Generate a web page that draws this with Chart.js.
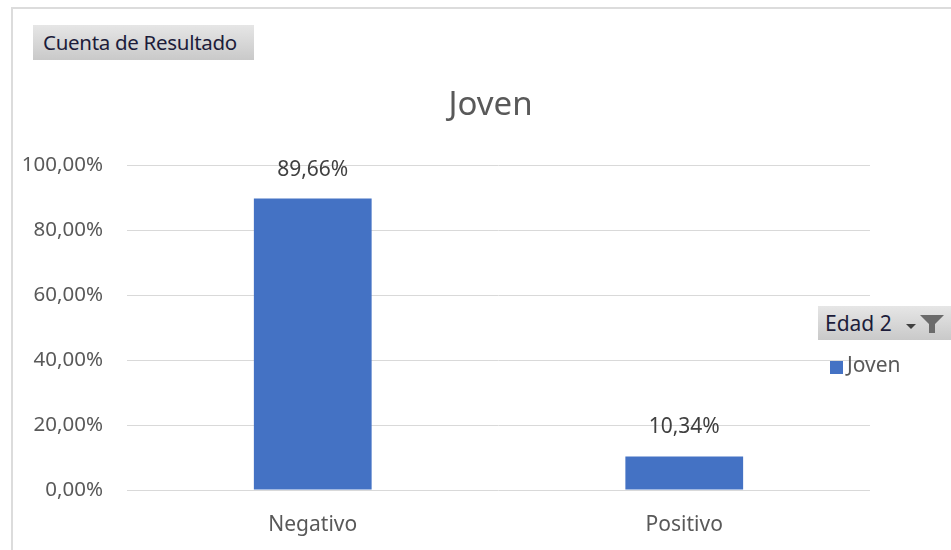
<!DOCTYPE html>
<html>
<head>
<meta charset="utf-8">
<script src="https://cdn.jsdelivr.net/npm/chart.js@4.4.1/dist/chart.umd.min.js"></script>
<style>
  html, body { margin: 0; padding: 0; background: #fff; }
  #wrap { position: relative; width: 951px; height: 550px; overflow: hidden; font-family: "Noto Sans", sans-serif; }
  #frame { position: absolute; left: 11px; top: 7px; right: -5px; bottom: -5px; border-left: 2px solid #dcdcdc; border-top: 2px solid #dcdcdc; }
  canvas { position: absolute; left: 0; top: 0; }
  .btn { position: absolute; background: linear-gradient(#e6e6e6, #c9c9c9); color: #1c1c3a; box-sizing: border-box; white-space: nowrap; }
  #fieldBtn { left: 33px; top: 25px; width: 221px; height: 35px; line-height: 35px; padding-left: 10px; font-size: 20.5px; letter-spacing: -0.3px; }
  #legendBtn { left: 818px; top: 306px; width: 140px; height: 34px; line-height: 34px; padding-left: 7px; font-size: 21px; }
  #legendBtn svg { position: absolute; top: 9px; }
</style>
</head>
<body>
<div id="wrap">
  <div id="frame"></div>
  <canvas id="chart" width="951" height="550"></canvas>
  <div class="btn" id="fieldBtn">Cuenta de Resultado</div>
  <div class="btn" id="legendBtn">Edad 2
    <svg style="left:87px" width="14" height="16" viewBox="0 0 14 16"><polygon points="1,9 11,9 6,14" fill="#404040"/></svg>
    <svg style="left:102px" width="24" height="18" viewBox="0 0 24 18"><polygon points="0,0 24,0 15,9 15,18 9,18 9,9" fill="#6b6b6b"/></svg>
  </div>
</div>
<script>
var categories = ['Negativo', 'Positivo'];
var seriesName = 'Joven';
var values = [89.66, 10.34];
var yTicks = [0, 20, 40, 60, 80, 100];

function pct(v) {
  return v.toFixed(2).replace('.', ',') + '%';
}

// chart title, centred over the plot area
var plotTitle = {
  id: 'plotTitle',
  afterDraw: function(chart) {
    var ctx = chart.ctx;
    var area = chart.chartArea;
    ctx.save();
    ctx.font = '33px "Noto Sans"';
    ctx.fillStyle = '#595959';
    ctx.textAlign = 'center';
    ctx.textBaseline = 'middle';
    ctx.fillText(seriesName, (area.left + area.right) / 2 - 8, 106);
    ctx.restore();
  }
};

// value labels above each bar
var barLabels = {
  id: 'barLabels',
  afterDatasetsDraw: function(chart) {
    var ctx = chart.ctx;
    ctx.save();
    ctx.font = '21px "Noto Sans"';
    ctx.fillStyle = '#404040';
    ctx.textAlign = 'center';
    ctx.textBaseline = 'middle';
    chart.getDatasetMeta(0).data.forEach(function(bar, i) {
      ctx.fillText(pct(chart.data.datasets[0].data[i]), bar.x, bar.y - 29);
    });
    ctx.restore();
  }
};

// legend entry under the field button
var sideLegend = {
  id: 'sideLegend',
  afterDraw: function(chart) {
    var ctx = chart.ctx;
    var ds = chart.data.datasets[0];
    ctx.save();
    ctx.fillStyle = ds.backgroundColor;
    ctx.fillRect(830, 361, 13, 13);
    ctx.font = '21px "Noto Sans"';
    ctx.fillStyle = '#595959';
    ctx.textBaseline = 'middle';
    ctx.fillText(ds.label, 847, 366);
    ctx.restore();
  }
};

var ctx = document.getElementById('chart').getContext('2d');
var myChart = new Chart(ctx, {
  type: 'bar',
  data: {
    labels: categories,
    datasets: [{
      label: seriesName,
      data: values,
      backgroundColor: '#4472c4',
      barPercentage: 1,
      categoryPercentage: 0.317
    }]
  },
  options: {
    responsive: false,
    animation: false,
    layout: { padding: { top: 165, right: 81, bottom: 0, left: 0 } },
    plugins: {
      legend: { display: false },
      tooltip: { enabled: false },
      title: { display: false }
    },
    scales: {
      x: {
        grid: { display: false },
        border: { display: false },
        ticks: { color: '#595959', font: { family: 'Noto Sans', size: 21 }, padding: 14 },
        afterFit: function(scale) { scale.height = 60; }
      },
      y: {
        min: 0,
        max: 100,
        afterBuildTicks: function(scale) {
          scale.ticks = yTicks.map(function(v) { return { value: v }; });
        },
        grid: { color: '#d9d9d9', lineWidth: 1, drawTicks: false },
        border: { display: false },
        ticks: {
          color: '#595959',
          font: { family: 'Noto Sans', size: 20.5 },
          padding: 24,
          callback: function(v) { return pct(v); }
        },
        afterFit: function(scale) { scale.width = 127; }
      }
    }
  },
  plugins: [plotTitle, barLabels, sideLegend]
});
</script>
</body>
</html>
